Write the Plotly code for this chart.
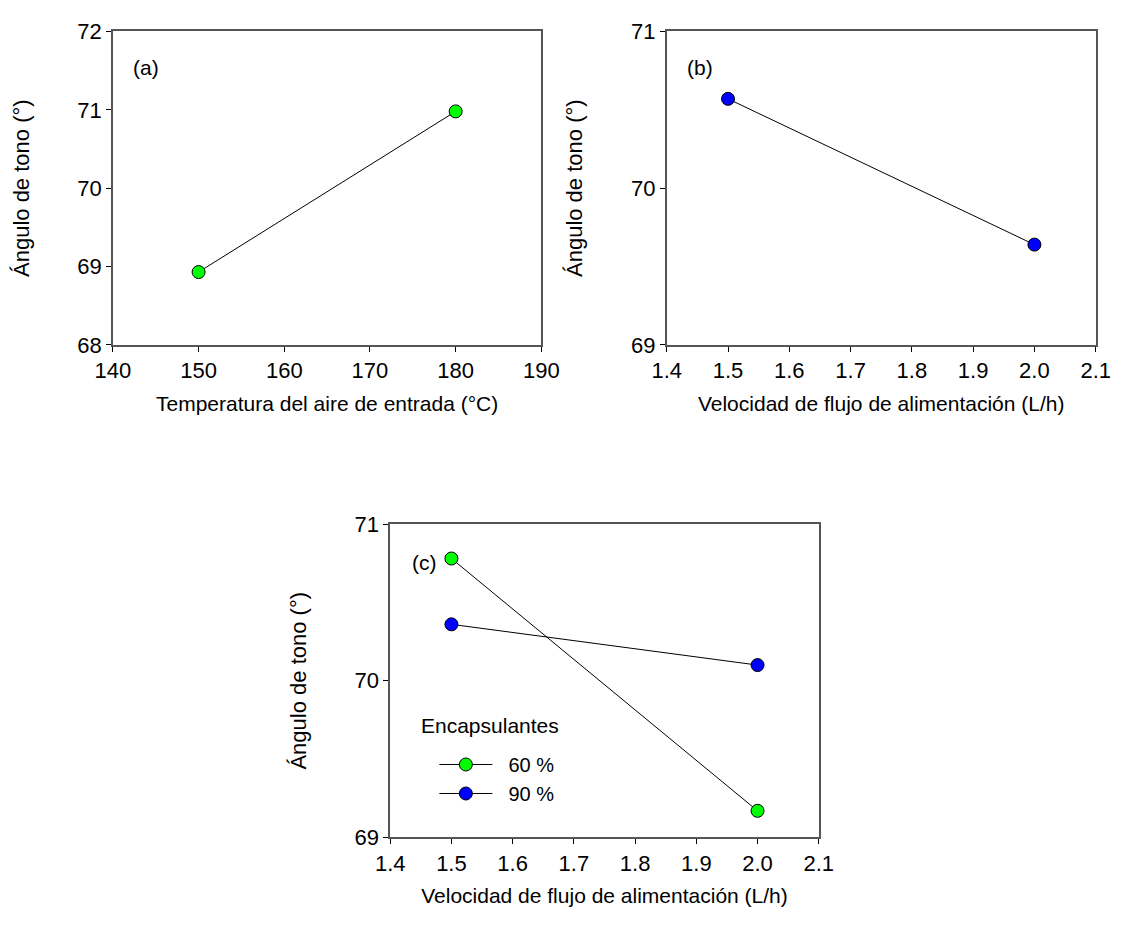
import plotly.graph_objects as go

# Panel (a)
temp_x = [150, 180]
temp_y = [68.93, 70.98]
# Panel (b)
flow_x = [1.5, 2.0]
flow_y = [70.57, 69.64]
# Panel (c)
enc_x = [1.5, 2.0]
enc60_y = [70.78, 69.17]
enc90_y = [70.36, 70.10]
series_names = ["\u00a0\u00a060 %", "\u00a0\u00a090 %"]

W, H = 1135, 941
FONT = "Liberation Sans, Arial, sans-serif"
TICK = 22
XTITLE = 21
YTITLE = 22
TXT = 21

def px_x(p):
    return p / W

def px_y(p):
    return 1 - p / H

fig = go.Figure()

mk60 = dict(symbol="circle", size=13, color="#00ff00", line=dict(color="black", width=1))
mk90 = dict(symbol="circle", size=13, color="#0000ff", line=dict(color="black", width=1))
ln = dict(color="black", width=1)

fig.add_trace(go.Scatter(x=temp_x, y=temp_y, mode="lines+markers", marker=mk60, line=ln,
                         xaxis="x", yaxis="y", showlegend=False))
fig.add_trace(go.Scatter(x=flow_x, y=flow_y, mode="lines+markers", marker=mk90, line=ln,
                         xaxis="x2", yaxis="y2", showlegend=False))
fig.add_trace(go.Scatter(x=enc_x, y=enc60_y, mode="lines+markers", marker=mk60, line=ln,
                         xaxis="x3", yaxis="y3", name=series_names[0], showlegend=True))
fig.add_trace(go.Scatter(x=enc_x, y=enc90_y, mode="lines+markers", marker=mk90, line=ln,
                         xaxis="x3", yaxis="y3", name=series_names[1], showlegend=True))

axcol = "#555555"
common = dict(showline=True, linecolor=axcol, linewidth=1.5, mirror=True, ticks="outside",
              ticklen=5, tickcolor="black", tickwidth=1, showgrid=False, zeroline=False,
              tickfont=dict(family=FONT, size=TICK, color="black"))
xfont = dict(family=FONT, size=XTITLE, color="black")
yfont = dict(family=FONT, size=YTITLE, color="black")

flow_ticks = [1.4, 1.5, 1.6, 1.7, 1.8, 1.9, 2.0, 2.1]
flow_text = ["1.4", "1.5", "1.6", "1.7", "1.8", "1.9", "2.0", "2.1"]
ytitle = "Ángulo de tono (°)"
xstand = 14
ystand = 42
fig.update_layout(
    width=W, height=H, margin=dict(l=0, r=0, t=0, b=0),
    paper_bgcolor="white", plot_bgcolor="white",
    xaxis=dict(domain=[px_x(98), px_x(540.5)], range=[140, 190], tickvals=[140, 150, 160, 170, 180, 190],
               title=dict(text="Temperatura del aire de entrada (°C)", standoff=xstand, font=xfont), anchor="y", **common),
    yaxis=dict(domain=[px_y(342), px_y(20)], range=[68, 72], tickvals=[68, 69, 70, 71, 72],
               title=dict(text=ytitle, standoff=ystand, font=yfont), anchor="x", **common),
    xaxis2=dict(domain=[px_x(670), px_x(1113)], range=[1.4, 2.1], tickvals=flow_ticks, ticktext=flow_text,
                title=dict(text="Velocidad de flujo de alimentación (L/h)", standoff=xstand, font=xfont), anchor="y2", **common),
    yaxis2=dict(domain=[px_y(342), px_y(20)], range=[69, 71], tickvals=[69, 70, 71],
                title=dict(text=ytitle, standoff=ystand, font=yfont), anchor="x2", **common),
    xaxis3=dict(domain=[px_x(384.4), px_x(827)], range=[1.4, 2.1], tickvals=flow_ticks, ticktext=flow_text,
                title=dict(text="Velocidad de flujo de alimentación (L/h)", standoff=xstand, font=xfont), anchor="y3", **common),
    yaxis3=dict(domain=[px_y(848), px_y(526)], range=[69, 71], tickvals=[69, 70, 71],
                title=dict(text=ytitle, standoff=ystand, font=yfont), anchor="x3", **common),
    legend=dict(x=px_x(430), y=px_y(753), xanchor="left", yanchor="top",
                bgcolor="rgba(0,0,0,0)", itemwidth=53, tracegroupgap=0,
                font=dict(family=FONT, size=20, color="black")),
    showlegend=True,
)

fig.add_annotation(text="Encapsulantes", x=px_x(414), y=px_y(733), xref="paper", yref="paper",
                   showarrow=False, font=dict(family=FONT, size=TXT, color="black"),
                   xanchor="left", yanchor="middle")

for txt, x, y in [("(a)", 132, 57), ("(b)", 704, 57), ("(c)", 420, 566)]:
    fig.add_annotation(text=txt, x=px_x(x), y=px_y(y), xref="paper", yref="paper",
                       showarrow=False, font=dict(family=FONT, size=TXT, color="black"),
                       xanchor="center", yanchor="middle")

fig.write_html("out.html")
